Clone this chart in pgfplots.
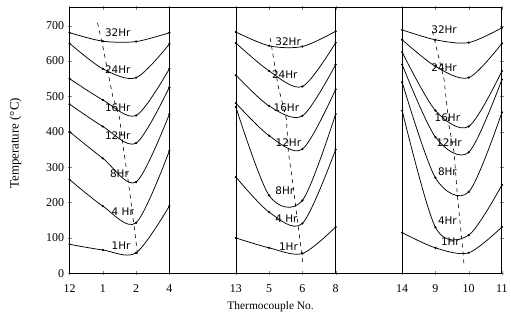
\documentclass[border=0pt]{standalone}
\usepackage{fontspec}
\setmainfont{Liberation Serif}
\setsansfont{DejaVu Sans}
\usepackage{pgfplots}
\pgfplotsset{compat=1.18}
\begin{document}
\begin{tikzpicture}
\begin{axis}[
  width=435pt, height=267pt, scale only axis,
  xmin=0, xmax=13, ymin=0, ymax=750,
  xtick={0,1,2,3,5,6,7,8,10,11,12,13},
  xticklabels={12,1,2,4,13,5,6,8,14,9,10,11},
  ytick={0,100,...,700},
  tick align=center, major tick length=4pt,
  xlabel={Thermocouple No.}, ylabel={Temperature (°C)},
  xlabel style={at={(axis description cs:0.465,-0.125)}, anchor=center, font=\fontsize{11.5}{13}\selectfont},
  ylabel style={at={(axis description cs:-0.125,0.49)}, anchor=center, font=\fontsize{13}{15}\selectfont},
  tick label style={font=\fontsize{12}{14}\selectfont},
  xticklabel style={yshift=-6pt},
  /pgf/number format/assume math mode=true,
  axis line style={line width=1pt},
  every axis plot/.append style={black, line width=0.75pt},
  clip=false,
]
% panel separators
\addplot[black, line width=0.6pt] coordinates {(3,0)(3,750)};
\addplot[black, line width=0.6pt] coordinates {(5,0)(5,750)};
\addplot[black, line width=0.6pt] coordinates {(8,0)(8,750)};
\addplot[black, line width=0.6pt] coordinates {(10,0)(10,750)};
% panel 1
\addplot[smooth, mark=*, mark size=0.7pt] coordinates {(0,680)(1,656)(2,655)(3,680)};
\addplot[smooth, mark=*, mark size=0.7pt] coordinates {(0,650)(1,578)(2,553)(3,648)};
\addplot[smooth, mark=*, mark size=0.7pt] coordinates {(0,550)(1,490)(2,446)(3,578)};
\addplot[smooth, mark=*, mark size=0.7pt] coordinates {(0,478)(1,415)(2,368)(3,526)};
\addplot[smooth, mark=*, mark size=0.7pt] coordinates {(0,400)(1,325)(2,258)(3,450)};
\addplot[smooth, mark=*, mark size=0.7pt] coordinates {(0,265)(1,190)(2,143)(3,346)};
\addplot[smooth, mark=*, mark size=0.7pt] coordinates {(0,82)(1,66)(2,58)(3,190)};
% panel 2
\addplot[smooth, mark=*, mark size=0.7pt] coordinates {(5,682)(6,643)(7,641)(8,684)};
\addplot[smooth, mark=*, mark size=0.7pt] coordinates {(5,651)(6,572)(7,528)(8,652)};
\addplot[smooth, mark=*, mark size=0.7pt] coordinates {(5,560)(6,473)(7,445)(8,590)};
\addplot[smooth, mark=*, mark size=0.7pt] coordinates {(5,481)(6,389)(7,351)(8,520)};
\addplot[smooth, mark=*, mark size=0.7pt] coordinates {(5,470)(6,220)(7,206)(8,450)};
\addplot[smooth, mark=*, mark size=0.7pt] coordinates {(5,272)(6,173)(7,141)(8,350)};
\addplot[smooth, mark=*, mark size=0.7pt] coordinates {(5,100)(6,72)(7,56)(8,131)};
% panel 3
\addplot[smooth, mark=*, mark size=0.7pt] coordinates {(10,688)(11,660)(12,652)(13,694)};
\addplot[smooth, mark=*, mark size=0.7pt] coordinates {(10,660)(11,585)(12,553)(13,650)};
\addplot[smooth, mark=*, mark size=0.7pt] coordinates {(10,625)(11,460)(12,415)(13,572)};
\addplot[smooth, mark=*, mark size=0.7pt] coordinates {(10,590)(11,385)(12,342)(13,548)};
\addplot[smooth, mark=*, mark size=0.7pt] coordinates {(10,540)(11,270)(12,230)(13,455)};
\addplot[smooth, mark=*, mark size=0.7pt] coordinates {(10,460)(11,130)(12,108)(13,250)};
\addplot[smooth, mark=*, mark size=0.7pt] coordinates {(10,115)(11,72)(12,58)(13,131)};
% loci of minima
\addplot[dash pattern=on 4pt off 4pt, line width=0.6pt] coordinates {(0.84,708)(0.98,650)(1.3,500)(1.5,440)(1.6,365)(1.75,270)(1.85,200)(2.05,50)};
\addplot[dash pattern=on 4pt off 4pt, line width=0.6pt] coordinates {(6.03,665)(6.28,525)(6.52,436)(6.58,342)(6.72,248)(6.87,136)(7.02,23)};
\addplot[dash pattern=on 4pt off 4pt, line width=0.6pt] coordinates {(10.91,684)(11.26,548)(11.41,417)(11.56,342)(11.66,220)(11.8,90)(11.86,23)};
% curve labels
\begin{scope}[every node/.style={font=\sffamily\fontsize{10.5}{12}\selectfont, inner sep=0.5pt}]
\node at (axis cs:1.45,680) {32Hr};
\node at (axis cs:1.45,576) {24Hr};
\node at (axis cs:1.45,469) {16Hr};
\node at (axis cs:1.45,388) {12Hr};
\node at (axis cs:1.5,281) {8Hr};
\node at (axis cs:1.6,174) {4 Hr};
\node at (axis cs:1.55,79) {1Hr};
\node at (axis cs:6.57,656) {32Hr};
\node at (axis cs:6.47,562) {24Hr};
\node at (axis cs:6.52,469) {16Hr};
\node at (axis cs:6.58,370) {12Hr};
\node at (axis cs:6.47,234) {8Hr};
\node at (axis cs:6.52,155) {4 Hr};
\node at (axis cs:6.58,75) {1Hr};
\node at (axis cs:11.26,689) {32Hr};
\node at (axis cs:11.26,581) {24Hr};
\node at (axis cs:11.36,440) {16Hr};
\node at (axis cs:11.41,370) {12Hr};
\node at (axis cs:11.36,288) {8Hr};
\node at (axis cs:11.36,150) {4Hr};
\node at (axis cs:11.45,90) {1Hr};
\end{scope}
\end{axis}
\path (current axis.south west) +(-70pt,-50pt) (current axis.north east) +(6pt,8pt);
\end{tikzpicture}
\end{document}
